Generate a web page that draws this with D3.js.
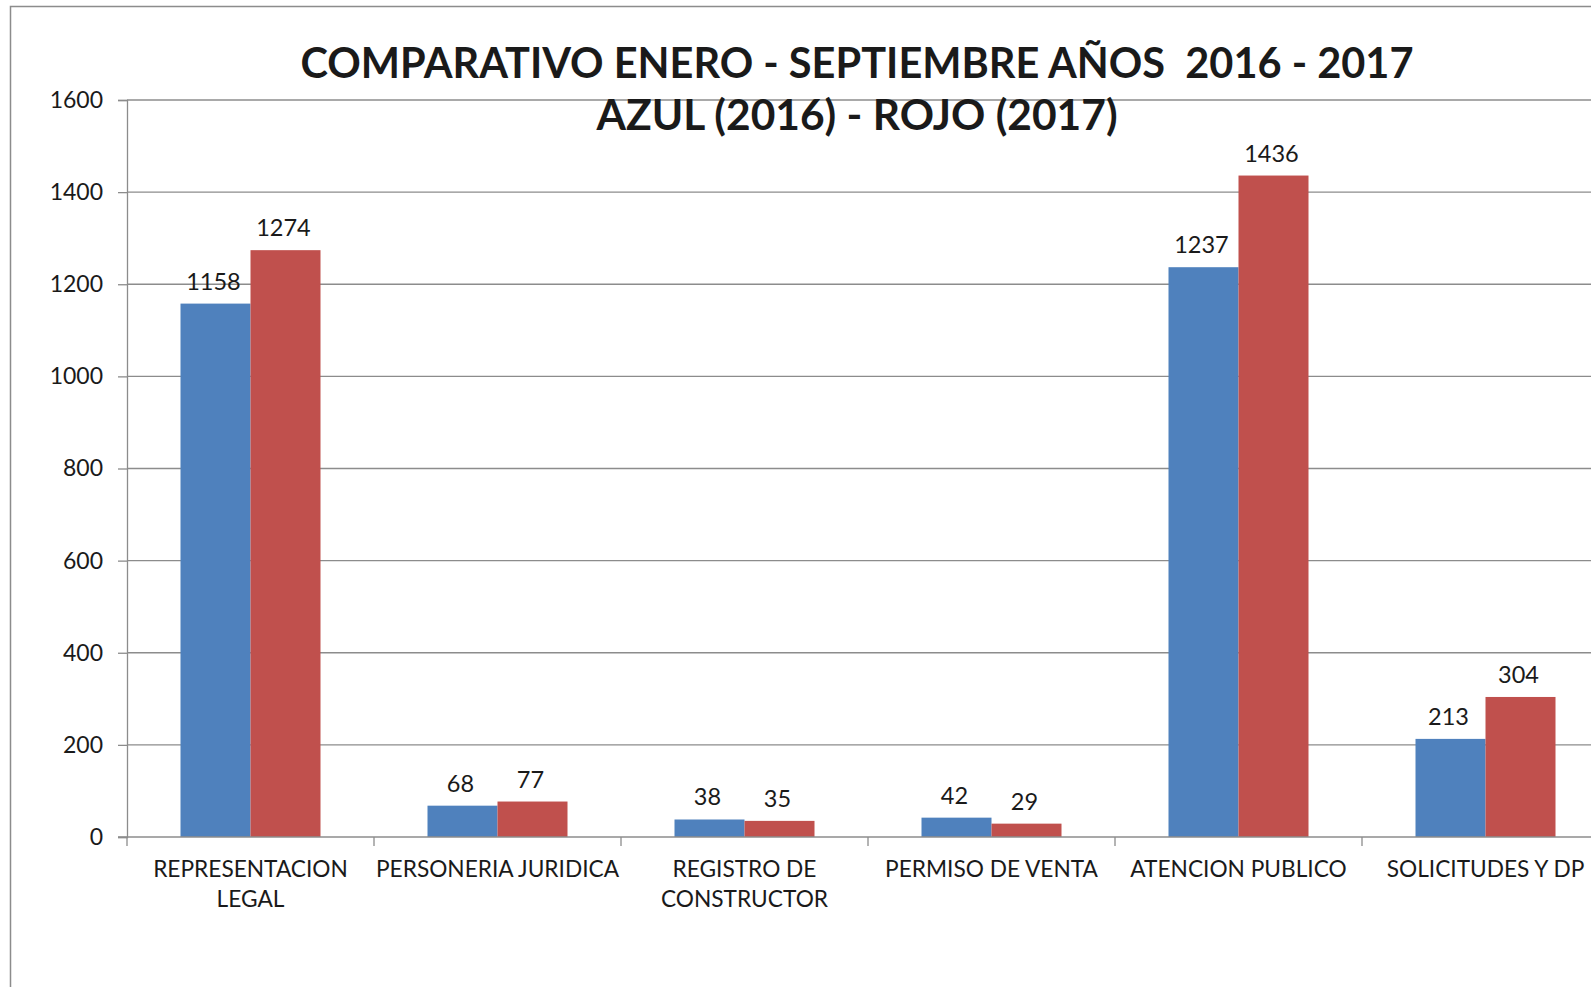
<!DOCTYPE html>
<html>
<head>
<meta charset="utf-8">
<script src="https://cdn.jsdelivr.net/npm/d3@7"></script>
<style>
  html, body { margin: 0; padding: 0; background: #fff; overflow: hidden; }
  text { font-family: Lato, "Open Sans", sans-serif; fill: #1a1a1a; }
</style>
</head>
<body>
<div id="chart"></div>
<script>
// categories on the x axis ("\n" marks where the label wraps)
const categories = [
  "REPRESENTACION\nLEGAL",
  "PERSONERIA JURIDICA",
  "REGISTRO DE\nCONSTRUCTOR",
  "PERMISO DE VENTA",
  "ATENCION PUBLICO",
  "SOLICITUDES Y DP"
];
const series = ["2016", "2017"];
const values2016 = [1158, 68, 38, 42, 1237, 213];
const values2017 = [1274, 77, 35, 29, 1436, 304];
const yTicks = [0, 200, 400, 600, 800, 1000, 1200, 1400, 1600];
const titleLines = ["COMPARATIVO ENERO - SEPTIEMBRE AÑOS  2016 - 2017", "AZUL (2016) - ROJO (2017)"];

const colors = { "2016": "#4f81bd", "2017": "#c0504d" };
const gridColor = "#8c8c8c";

const width = 1591, height = 987;
const plot = { left: 127, top: 100, bottom: 837, catWidth: 247 };

const svg = d3.select("#chart").append("svg")
  .attr("width", width)
  .attr("height", height);

// outer frame of the chart area (runs off the right edge like the original)
svg.append("rect")
  .attr("x", 10.5).attr("y", 6.5)
  .attr("width", width + 20).attr("height", height + 20)
  .attr("fill", "none")
  .attr("stroke", "#8c8c8c")
  .attr("stroke-width", 1.5);

const y = d3.scaleLinear()
  .domain([0, 1600])
  .range([plot.bottom, plot.top]);

const x0 = d3.scaleBand()
  .domain(categories)
  .range([plot.left, plot.left + plot.catWidth * categories.length]);

const x1 = d3.scaleBand()
  .domain(series)
  .range([53.5, plot.catWidth - 53.5]);

// horizontal gridlines
svg.append("g")
  .selectAll("line")
  .data(yTicks.filter(d => d > 0))
  .join("line")
  .attr("x1", plot.left).attr("x2", width)
  .attr("y1", d => y(d)).attr("y2", d => y(d))
  .attr("stroke", gridColor)
  .attr("stroke-width", 1.3);

// y axis
const yAxis = svg.append("g")
  .attr("transform", `translate(${plot.left},0)`)
  .call(d3.axisLeft(y).tickValues(yTicks).tickFormat(d3.format("d")).tickSize(9).tickPadding(15));
yAxis.select(".domain").attr("stroke", gridColor).attr("stroke-width", 1.3);
yAxis.selectAll(".tick line").attr("stroke", gridColor).attr("stroke-width", 1.3);
yAxis.selectAll(".tick text")
  .attr("font-size", 23)
  .attr("font-family", "Lato, 'Open Sans', sans-serif")
  .attr("fill", "#1a1a1a");

// bars
const rows = categories.map((c, i) => ({ cat: c, values: [
  { key: "2016", value: values2016[i] },
  { key: "2017", value: values2017[i] }
] }));

const groups = svg.append("g")
  .selectAll("g")
  .data(rows)
  .join("g")
  .attr("transform", d => `translate(${x0(d.cat)},0)`);

groups.selectAll("rect")
  .data(d => d.values)
  .join("rect")
  .attr("x", d => x1(d.key))
  .attr("width", x1.bandwidth())
  .attr("y", d => y(d.value))
  .attr("height", d => y(0) - y(d.value))
  .attr("fill", d => colors[d.key]);

groups.selectAll("text")
  .data(d => d.values)
  .join("text")
  .attr("x", d => x1(d.key) + x1.bandwidth() / 2 - 2)
  .attr("y", d => y(d.value) - 14)
  .attr("text-anchor", "middle")
  .attr("font-size", 23.5)
  .text(d => d.value);

// x axis line and boundary ticks
const xAxis = svg.append("g");
xAxis.append("line")
  .attr("x1", plot.left - 9).attr("x2", width)
  .attr("y1", plot.bottom).attr("y2", plot.bottom)
  .attr("stroke", gridColor).attr("stroke-width", 1.3);
xAxis.selectAll(".sep")
  .data(categories)
  .join("line")
  .attr("class", "sep")
  .attr("x1", d => x0(d)).attr("x2", d => x0(d))
  .attr("y1", plot.bottom).attr("y2", plot.bottom + 9)
  .attr("stroke", gridColor).attr("stroke-width", 1.3);

xAxis.selectAll(".lbl")
  .data(categories)
  .join("text")
  .attr("class", "lbl")
  .attr("text-anchor", "middle")
  .attr("font-size", 22.7)
  .each(function (d) {
    const t = d3.select(this);
    d.split("\n").forEach((line, i) => {
      t.append("tspan")
        .attr("x", x0(d) + x0.bandwidth() / 2)
        .attr("y", 877 + i * 29.5)
        .text(line);
    });
  });

// title
svg.append("g")
  .selectAll("text")
  .data(titleLines)
  .join("text")
  .attr("x", 857)
  .attr("y", (d, i) => 78 + i * 52)
  .attr("text-anchor", "middle")
  .attr("font-size", (d, i) => i === 0 ? 41.5 : 42.5)
  .attr("font-weight", "bold")
  .attr("fill", "#000")
  .style("white-space", "pre")
  .text(d => d);
</script>
</body>
</html>
